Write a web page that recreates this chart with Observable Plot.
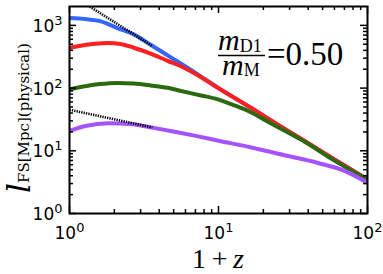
<!DOCTYPE html>
<html><head><meta charset="utf-8">
<script src="https://cdn.jsdelivr.net/npm/d3@7"></script>
<script src="https://cdn.jsdelivr.net/npm/@observablehq/plot@0.6"></script>
<style>body{margin:0;background:#fff} svg{display:block}</style>
</head><body><div id="chart"></div>
<script>
// 1+z values and free-streaming lengths [Mpc, physical]
const zBlue = [1, 1.3, 1.62, 2.1, 2.7, 3.5, 5, 7, 10, 16.6, 25, 40, 60, 100];
const lBlue = [1306, 1250, 1157, 906, 719, 490, 290, 175, 100, 48, 26, 13.2, 7.3, 3.5];
const zRed = [1, 1.3, 1.8, 2.2, 2.7, 3.5, 4.55, 5.6, 7.6, 9.4, 16.6, 25, 40, 60, 100];
const lRed = [436, 490, 524, 505, 440, 355, 272, 223, 150, 109, 48, 26, 13.2, 7.3, 3.5];
const zGreen = [1, 1.3, 1.6, 2.1, 2.7, 3.5, 4.55, 5.6, 7.5, 9.9, 12.5, 15.7, 20, 27.6, 37.7, 57, 100];
const lGreen = [95, 108, 116, 121, 118, 110, 101, 90, 77, 66, 54, 43.5, 32, 21, 14.0, 7.5, 3.45];
const zPurple = [1, 1.28, 1.84, 2.64, 3.6, 5.17, 7.05, 10, 16.6, 27.7, 46.5, 70, 100];
const lPurple = [20.8, 24.9, 27.5, 26.5, 23.4, 20, 17.3, 14.5, 11.3, 8.5, 6.4, 4.8, 3.1];
const zDotUpper = [1, 3.6];
const lDotUpper = [3190, 467];
const zDotLower = [1, 3.6];
const lDotLower = [45, 23.7];

const xMajor = [1, 10, 100];
const xMinor = [2, 3, 4, 5, 6, 7, 8, 9, 20, 30, 40, 50, 60, 70, 80, 90];
const yMajor = [1, 10, 100, 1000];
const yMinor = [2, 3, 4, 5, 6, 7, 8, 9, 20, 30, 40, 50, 60, 70, 80, 90, 200, 300, 400, 500, 600, 700, 800, 900];

const W = 383, H = 274, ML = 69, MR = 16, MT = 6, MB = 61;
const PW = W - ML - MR, PH = H - MT - MB;

const table = (zs, ls) => zs.map((z, i) => ({z, l: ls[i]}));
const C = {blue: "#3366ff", red: "#ff1f1f", green: "#2b6a10", purple: "#a552ff"};

const expFmt = d => "10^" + Math.round(Math.log10(d));
const line = (zs, ls, color) => Plot.line(table(zs, ls), {x: "z", y: "l", stroke: color, strokeWidth: 4, curve: "monotone-x", clip: true});
const dotted = (zs, ls) => Plot.line(table(zs, ls), {x: "z", y: "l", stroke: "black", strokeWidth: 2.6, strokeDasharray: "1.3,1.1", strokeLinecap: "butt", clip: true});
// inward tick marks on all four sides
const ticksX = (vals, len) => [
  Plot.ruleX(vals, {insetTop: PH - len, stroke: "black", strokeWidth: 1.5}),
  Plot.ruleX(vals, {insetBottom: PH - len, stroke: "black", strokeWidth: 1.5})
];
const ticksY = (vals, len) => [
  Plot.ruleY(vals, {insetRight: PW - len, stroke: "black", strokeWidth: 1.5}),
  Plot.ruleY(vals, {insetLeft: PW - len, stroke: "black", strokeWidth: 1.5})
];

const chart = Plot.plot({
  width: W, height: H,
  marginLeft: ML, marginRight: MR, marginTop: MT, marginBottom: MB,
  x: {type: "log", domain: [1, 100], label: null},
  y: {type: "log", domain: [1, 2000], label: null},
  style: {fontFamily: "DejaVu Sans", fontSize: "17px"},
  marks: [
    line(zBlue, lBlue, C.blue),
    line(zRed, lRed, C.red),
    line(zGreen, lGreen, C.green),
    line(zPurple, lPurple, C.purple),
    dotted(zDotUpper, lDotUpper),
    dotted(zDotLower, lDotLower),
    Plot.axisX({anchor: "bottom", ticks: xMajor, tickSize: 0, tickPadding: 13, tickFormat: expFmt, label: null}),
    Plot.axisY({anchor: "left", ticks: yMajor, tickSize: 0, tickPadding: 7, tickFormat: expFmt, label: null, dy: 1}),
    ...ticksX(xMajor, 7), ...ticksX(xMinor, 4),
    ...ticksY(yMajor, 7), ...ticksY(yMinor, 4),
    Plot.frame({stroke: "black", strokeWidth: 2})
  ]
});
document.getElementById("chart").appendChild(chart);

const NS = "http://www.w3.org/2000/svg";
// superscript exponents in tick labels
chart.querySelectorAll("text").forEach(t => {
  const s = t.textContent;
  if (!s.includes("^")) return;
  const [base, exp] = s.split("^");
  t.textContent = "";
  const a = document.createElementNS(NS, "tspan"); a.textContent = base; t.appendChild(a);
  const b = document.createElementNS(NS, "tspan"); b.textContent = exp;
  b.setAttribute("dy", "-7"); b.setAttribute("font-size", "13"); t.appendChild(b);
});

const svg = d3.select(chart);
// y-axis title
const yt = svg.append("text").attr("transform", "translate(30,118) rotate(-90)")
  .attr("text-anchor", "middle").attr("font-family", "DejaVu Serif").attr("fill", "black");
yt.append("tspan").attr("font-style", "italic").attr("font-size", 31).text("l");
yt.append("tspan").attr("font-size", 15).attr("dy", -1).text("FS[Mpc](physical)");
// x-axis title
const xt = svg.append("text").attr("x", 218).attr("y", 268).attr("text-anchor", "middle")
  .attr("font-family", "Liberation Serif").attr("font-size", 28).attr("fill", "black");
xt.append("tspan").text("1\u2009+\u2009");
xt.append("tspan").attr("font-style", "italic").text("z");
// annotation m_D1 / m_M = 0.50
const num = svg.append("text").attr("x", 218).attr("y", 50).attr("text-anchor", "start").attr("font-family", "Liberation Serif").attr("fill", "black");
num.append("tspan").attr("font-style", "italic").attr("font-size", 30).text("m");
num.append("tspan").attr("font-size", 18).attr("dy", 2).text("D1");
svg.append("line").attr("x1", 218).attr("x2", 265).attr("y1", 55.5).attr("y2", 55.5).attr("stroke", "black").attr("stroke-width", 1.5);
const den = svg.append("text").attr("x", 222).attr("y", 75).attr("text-anchor", "start").attr("font-family", "Liberation Serif").attr("fill", "black");
den.append("tspan").attr("font-style", "italic").attr("font-size", 30).text("m");
den.append("tspan").attr("font-size", 18).attr("dy", 1).text("M");
svg.append("text").attr("x", 267).attr("y", 65).attr("text-anchor", "start").attr("font-family", "Liberation Serif").attr("font-size", 33).attr("fill", "black").text("=0.50");
</script></body></html>
